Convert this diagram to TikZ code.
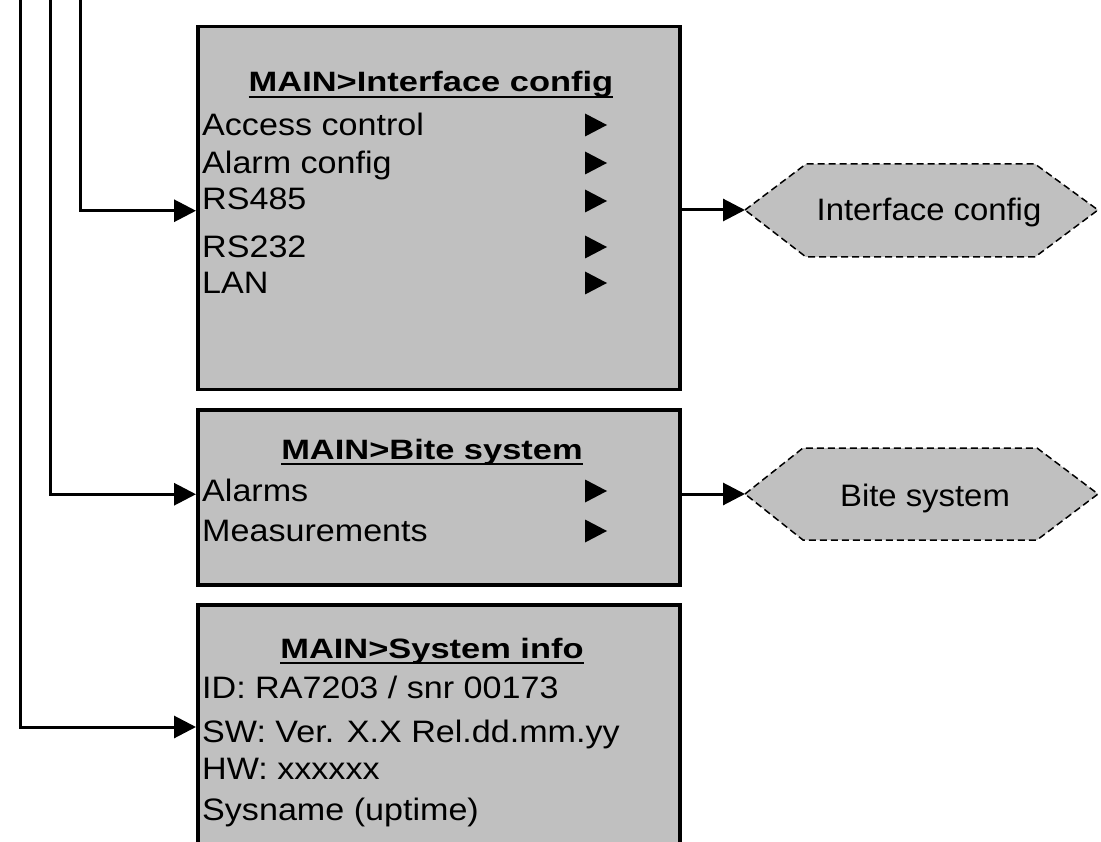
\documentclass[tikz,border=0pt]{standalone}
\usepackage{fontspec}
\setmainfont{Liberation Sans}
\usepackage{graphicx}
\usetikzlibrary{arrows.meta}
\definecolor{boxgray}{HTML}{C0C0C0}
\newcommand{\itx}[1]{\scalebox{1.1}[1]{#1}}
\newcommand{\ttx}[1]{\scalebox{1.23}[1]{#1}}
\newcommand{\htx}[1]{\scalebox{1.06}[1]{#1}}
\begin{document}
\begin{tikzpicture}[x=1pt,y=-1pt,
  menubox/.style={draw=black, line width=3.5pt, fill=boxgray, anchor=north west, inner sep=0pt, minimum width=482pt},
  itm/.style={anchor=base west, inner sep=0pt, font=\fontsize{31pt}{36pt}\selectfont},
  ttl/.style={anchor=base, inner sep=0pt, font=\fontsize{28pt}{34pt}\selectfont\bfseries},
  ul/.style={line width=2pt},
  conn/.style={line width=3pt, -{Triangle[length=22pt,width=22pt]}},
  hexs/.style={draw=black, fill=boxgray, line width=1.5pt, dash pattern=on 7pt off 4pt},
  hextxt/.style={inner sep=0pt, font=\fontsize{31pt}{36pt}\selectfont},
  tri/.style={fill=black}
]
\useasboundingbox (0,0) rectangle (1101,842);
\fill[white] (0,0) rectangle (1101,842);

% boxes
\node[menubox, minimum height=363pt] (box1) at (196,25) {};
\node[menubox, minimum height=175pt] (box2) at (196,408) {};
\node[menubox, minimum height=300pt] (box3) at (196,603) {};

% box 1 content
\node[ttl] (t1) at (431,92) {\ttx{MAIN>Interface config}};
\draw[ul] ([yshift=-5pt]t1.base west) -- ([yshift=-5pt]t1.base east);
\node[itm] (i11) at (202,136) {\itx{Access control}};
\node[itm] (i12) at (202,174) {\itx{Alarm config}};
\node[itm] (i13) at (202,210) {\itx{RS485}};
\node[itm] (i14) at (202,258) {\itx{RS232}};
\node[itm] (i15) at (202,294) {\itx{LAN}};
\foreach \yy in {125,163,201,247,283}
  \fill[tri] (585,\yy-11.5) -- (607,\yy) -- (585,\yy+11.5) -- cycle;

% box 2 content
\node[ttl] (t2) at (432,459) {\ttx{MAIN>Bite system}};
\draw[ul] ([yshift=-5pt]t2.base west) -- ([yshift=-5pt]t2.base east);
\node[itm] (i21) at (202,501) {\itx{Alarms}};
\node[itm] (i22) at (202,541) {\itx{Measurements}};
\foreach \yy in {491,531}
  \fill[tri] (585,\yy-11.5) -- (607,\yy) -- (585,\yy+11.5) -- cycle;

% box 3 content
\node[ttl] (t3) at (432,658) {\ttx{MAIN>System info}};
\draw[ul] ([yshift=-5pt]t3.base west) -- ([yshift=-5pt]t3.base east);
\node[itm] (i31) at (202,698) {\itx{ID: RA7203 / snr 00173}};
\node[itm] (i32) at (202,742) {\itx{SW: Ver. X.X Rel.dd.mm.yy}};
\node[itm] (i33) at (202,779) {\itx{HW: xxxxxx}};
\node[itm] (i34) at (202,820) {\itx{Sysname (uptime)}};

% hexagons
\draw[hexs] (745,210) -- (806,164) -- (1035,164) -- (1098,210) -- (1035,257) -- (806,257) -- cycle;
\coordinate (h1tip) at (745,210);
\node[hextxt] (h1) at (929,212) {\htx{Interface config}};
\draw[hexs] (745,494) -- (803,448) -- (1037,448) -- (1098,494) -- (1037,540) -- (803,540) -- cycle;
\coordinate (h2tip) at (745,494);
\node[hextxt] (h2) at (925,498) {\htx{Bite system}};

% feed lines
\coordinate (s1) at (80,0);
\coordinate (s2) at (50,0);
\coordinate (s3) at (20,0);
\draw[conn] (s1) |- ([yshift=-2.5pt]box1.west);
\draw[conn] (s2) |- ([yshift=3pt]box2.west);
\draw[conn] (s3) |- ([yshift=-124pt]box3.north west);

% outputs
\draw[conn] (box1.east |- h1tip) -- (h1tip);
\draw[conn] (box2.east |- h2tip) -- (h2tip);
\end{tikzpicture}
\end{document}
